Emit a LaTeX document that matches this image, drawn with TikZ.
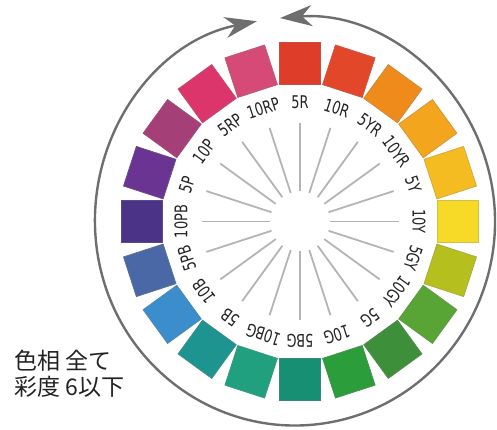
\documentclass[tikz,border=0pt]{standalone}
\usepackage{fontspec}
\setmainfont{DejaVu Sans}
\newfontfamily\lblfont[FakeStretch=0.74]{DejaVu Sans}
\newfontfamily\cjkfont{Noto Sans CJK JP}
\usetikzlibrary{arrows.meta,calc}
\definecolor{c0}{HTML}{DE3D2A}
\definecolor{c1}{HTML}{E2472A}
\definecolor{c2}{HTML}{EE8B1B}
\definecolor{c3}{HTML}{F3A51D}
\definecolor{c4}{HTML}{F5BC22}
\definecolor{c5}{HTML}{F7DA28}
\definecolor{c6}{HTML}{B5C01F}
\definecolor{c7}{HTML}{58A434}
\definecolor{c8}{HTML}{3E8F3A}
\definecolor{c9}{HTML}{2B9D3A}
\definecolor{c10}{HTML}{178F72}
\definecolor{c11}{HTML}{20A07F}
\definecolor{c12}{HTML}{1D9490}
\definecolor{c13}{HTML}{3B8DCB}
\definecolor{c14}{HTML}{4A68A6}
\definecolor{c15}{HTML}{4B3487}
\definecolor{c16}{HTML}{6A3592}
\definecolor{c17}{HTML}{A53F78}
\definecolor{c18}{HTML}{DC356C}
\definecolor{c19}{HTML}{D64A78}
\definecolor{ringgray}{HTML}{6E6E6E}
\definecolor{spokegray}{HTML}{B4B4B4}
\definecolor{txtgray}{HTML}{222222}
\tikzset{ringhead/.tip={Stealth[length=32pt,width=21pt,inset=10pt]}}
\begin{document}
\begin{tikzpicture}[x=1pt,y=1pt,
  huesq/.style={line width=0.8pt, minimum size=41.6pt, inner sep=0pt, outer sep=0pt},
  huelabel/.style={font=\lblfont\fontsize{17.5}{19}\selectfont, text=txtgray, inner sep=0pt},
  spoke/.style={draw=spokegray, line width=1.8pt},
  ring/.style={draw=ringgray, line width=2.4pt},
  note/.style={font=\cjkfont\fontsize{23}{26}\selectfont, text=txtgray, anchor=base west, inner sep=0pt}]
\useasboundingbox (0,0) rectangle (497,430);
\coordinate (W) at (300,208.5);
\coordinate (E) at (295,208.5);
\foreach \nm [count=\i from 0] in {5R,10R,5YR,10YR,5Y,10Y,5GY,10GY,5G,10G,5BG,10BG,5B,10B,5PB,10PB,5P,10P,5RP,10RP} {
  \pgfmathsetmacro\ang{90-18*\i}
  \node[huesq, fill=c\i, draw=c\i!70!gray, rotate=\ang-90] (sq\i) at ($(W)+(\ang:158)$) {};
  \node[huelabel, rotate=\ang-90] (lb\i) at ($(W)+(\ang:119)$) {\nm};
  \draw[spoke] ($(W)+(\ang:30)$) -- ($(W)+(\ang:98.5)$);
}
\coordinate (ringstart) at ($(E)+(101:200 and 204)$);
\draw[ring, {ringhead}-{ringhead}] (ringstart) arc[start angle=101, end angle=454.3, x radius=200, y radius=204];
\node[note] (note1) at (14,60) {色相 全て};
\node[note] (note2) at (14,34) {彩度 6以下};
\end{tikzpicture}
\end{document}
